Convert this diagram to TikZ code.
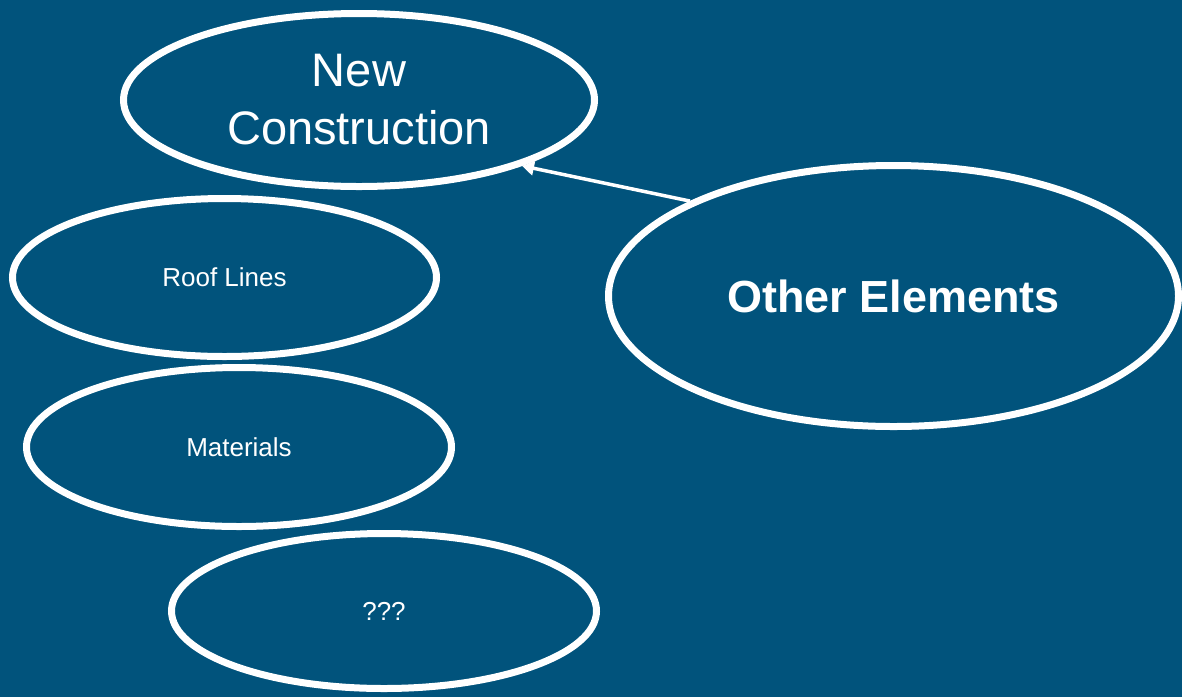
\documentclass[tikz,border=0pt]{standalone}
\usepackage{fontspec}
\setmainfont{Liberation Sans}
\usetikzlibrary{shapes.geometric,arrows.meta}
\definecolor{bg}{RGB}{1,83,124}
\tikzset{
  oval/.style={ellipse, draw=white, line width=7pt, text=white, inner sep=0pt, align=center},
  conn/.style={draw=white, line width=3.5pt, -{Triangle[length=12pt,width=14pt]}}
}
\begin{document}
\begin{tikzpicture}[x=1pt,y=-1pt]
\fill[bg] (0,0) rectangle (1182,697);
\useasboundingbox (0,0) rectangle (1182,697);
\node[oval, minimum width=471pt, minimum height=173pt, font=\fontsize{47}{58}\selectfont] (nc) at (359,100) {New\\Construction};
\node[oval, minimum width=424pt, minimum height=158pt, font=\fontsize{26}{30}\selectfont] (rl) at (224.5,277.5) {Roof Lines};
\node[oval, minimum width=425pt, minimum height=159pt, font=\fontsize{26}{30}\selectfont] (ma) at (239,447) {Materials};
\node[oval, minimum width=425pt, minimum height=155pt, font=\fontsize{26}{30}\selectfont] (qq) at (384,611) {???};
\node[oval, minimum width=570pt, minimum height=261pt, font=\bfseries\fontsize{45}{52}\selectfont] (oe) at (893.5,296) {Other Elements};
\draw[conn] (oe.155) -- (nc.-22);
\end{tikzpicture}
\end{document}
